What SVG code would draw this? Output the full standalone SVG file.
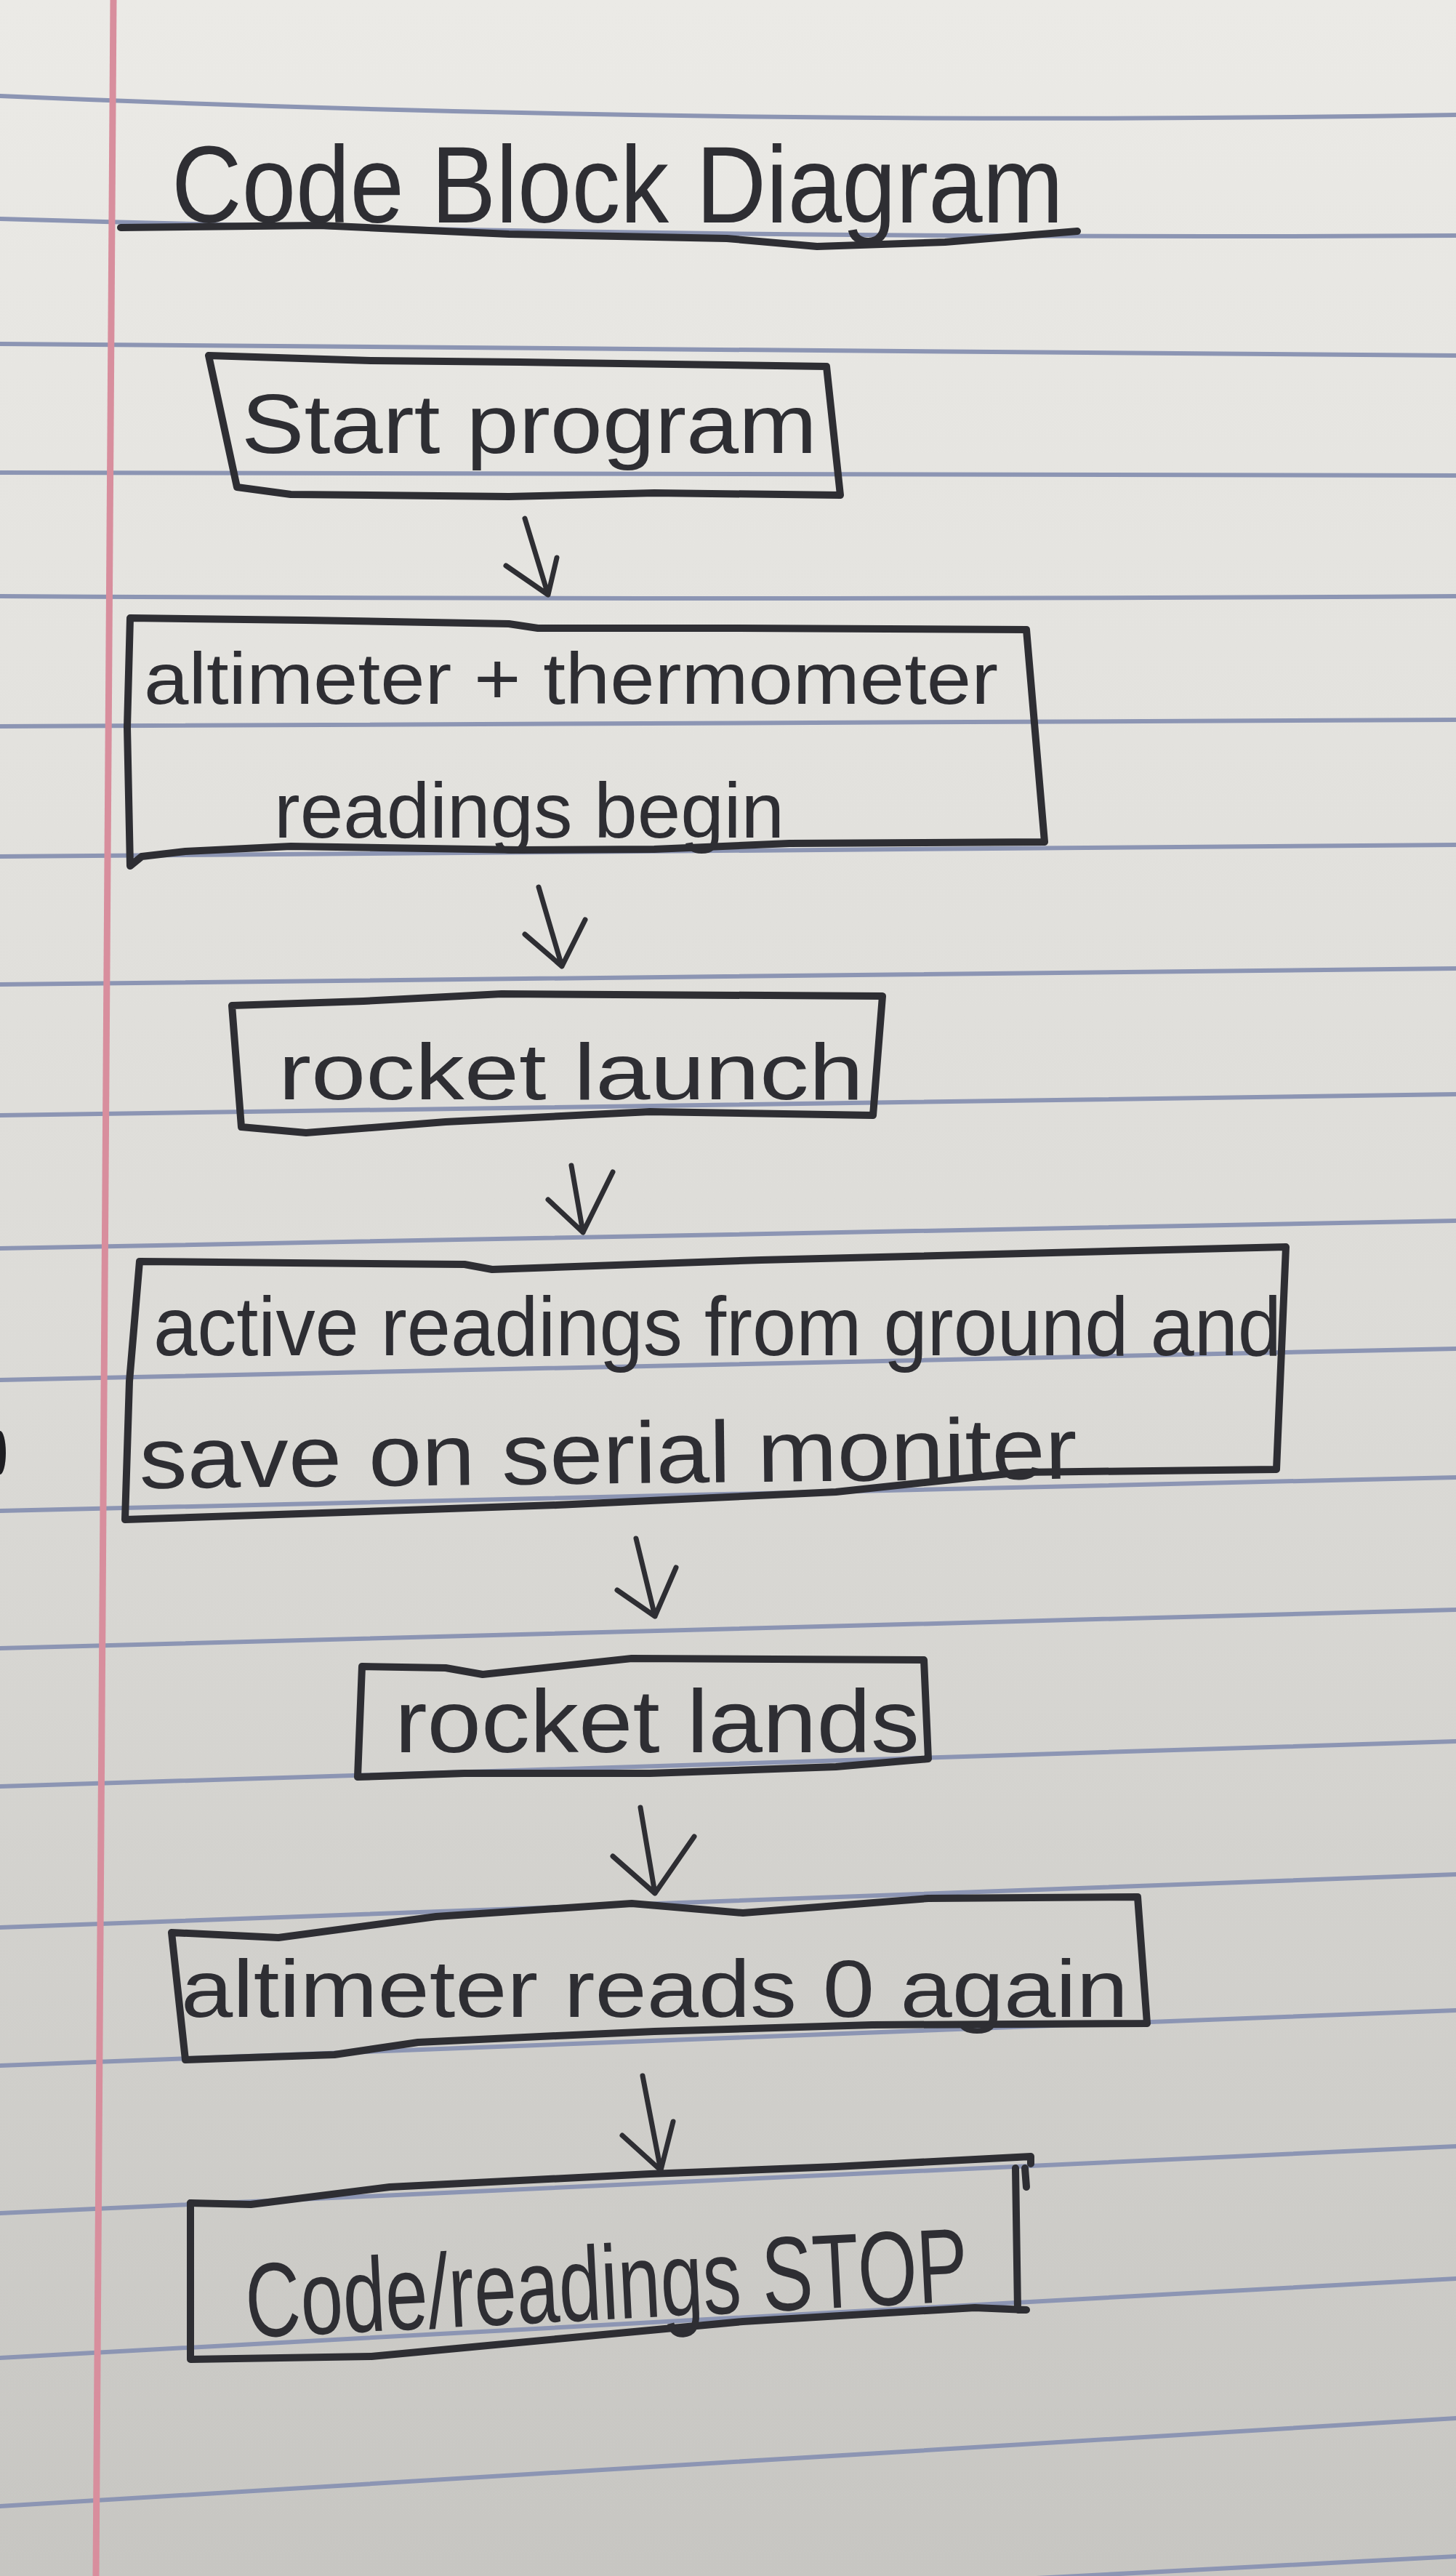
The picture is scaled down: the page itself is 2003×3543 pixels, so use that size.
<svg xmlns="http://www.w3.org/2000/svg" width="2003" height="3543" viewBox="0 0 2003 3543">
<defs>
<linearGradient id="paper" x1="0" y1="0" x2="0" y2="1">
<stop offset="0" stop-color="#ebeae6"/>
<stop offset="0.5" stop-color="#dddcd8"/>
<stop offset="1" stop-color="#c7c6c2"/>
</linearGradient>
<style>
.rule{fill:none;stroke:#8c95b3;stroke-width:6;stroke-linecap:round}
.margin{fill:none;stroke:#d88e9d;stroke-width:9}
.box{fill:none;stroke:#2e2e33;stroke-width:10;stroke-linejoin:round;stroke-linecap:round}
.arrow{fill:none;stroke:#2e2e33;stroke-width:7;stroke-linejoin:round;stroke-linecap:round}
.hand{font-family:"Liberation Sans","DejaVu Sans",sans-serif;fill:#2e2e33}
</style>
</defs>
<rect x="0" y="0" width="2003" height="3543" fill="url(#paper)"/>
<g id="paper-lines">
<path class="rule" d="M0,132 Q1000,175 2003,158"/>
<path class="rule" d="M0,301 Q1000,330 2003,324"/>
<path class="rule" d="M0,473 Q1000,485 2003,489"/>
<path class="rule" d="M0,650 Q1000,655 2003,654"/>
<path class="rule" d="M0,820 Q1000,826 2003,820"/>
<path class="rule" d="M0,999 Q1000,998 2003,990"/>
<path class="rule" d="M0,1178 Q1000,1172 2003,1162"/>
<path class="rule" d="M0,1354 Q1000,1345 2003,1332"/>
<path class="rule" d="M0,1534 Q1000,1520 2003,1505"/>
<path class="rule" d="M0,1717 Q1000,1698 2003,1679"/>
<path class="rule" d="M0,1898 Q1000,1876 2003,1855"/>
<path class="rule" d="M0,2078 Q1000,2055 2003,2032"/>
<path class="rule" d="M0,2267 Q1000,2240 2003,2214"/>
<path class="rule" d="M0,2457 Q1000,2426 2003,2395"/>
<path class="rule" d="M0,2651 Q1000,2614 2003,2578"/>
<path class="rule" d="M0,2841 Q1000,2803 2003,2765"/>
<path class="rule" d="M0,3044 Q1000,2998 2003,2952"/>
<path class="rule" d="M0,3243 Q1000,3188 2003,3134"/>
<path class="rule" d="M0,3447 Q1000,3386 2003,3326"/>
<path class="rule" d="M0,3620 Q1000,3568 2003,3516"/>
</g>
<path class="margin" d="M156,0 L132,3543"/>
<ellipse cx="0" cy="1998" rx="8" ry="30" fill="#1e1e22"/>

<g id="title">
<text class="hand" x="236" y="306" font-size="150" textLength="1227" lengthAdjust="spacingAndGlyphs">Code Block Diagram</text>
<path class="box" d="M166,313 L440,310 L700,322 L1000,328 L1124,339 L1300,333 L1482,318"/>
</g>

<g id="node-start">
<path class="box" d="M287,489 L511,496 L715,498 L1137,504 L1156,681 L900,678 L700,683 L400,680 L326,670 Z"/>
<text class="hand" x="332" y="623" font-size="115" textLength="792" lengthAdjust="spacingAndGlyphs">Start program</text>
</g>

<g id="node-readings-begin">
<path class="box" d="M179,850 L420,853 L700,858 L740,864 L1000,864 L1412,866 L1437,1158 L1086,1160 L900,1168 L715,1169 L400,1164 L255,1171 L195,1178 L179,1191 L175,1000 Z"/>
<text class="hand" x="198" y="968" font-size="100" textLength="1175" lengthAdjust="spacingAndGlyphs">altimeter + thermometer</text>
<text class="hand" x="377" y="1152" font-size="108" textLength="702" lengthAdjust="spacingAndGlyphs">readings begin</text>
</g>

<g id="node-launch">
<path class="box" d="M319,1383 L500,1377 L690,1367 L1214,1370 L1201,1534 L894,1529 L613,1543 L421,1558 L332,1550 Z"/>
<text class="hand" x="383" y="1512" font-size="110" textLength="805" lengthAdjust="spacingAndGlyphs">rocket launch</text>
</g>

<g id="node-active">
<path class="box" d="M192,1735 L400,1737 L639,1739 L677,1746 L1047,1733 L1769,1715 L1756,2021 L1405,2025 L1150,2052 L766,2070 L383,2083 L172,2090 L178,1900 Z"/>
<text class="hand" x="211" y="1864" font-size="115" textLength="1552" lengthAdjust="spacingAndGlyphs">active readings from ground and</text>
<text class="hand" x="192" y="2047" font-size="120" textLength="1290" lengthAdjust="spacingAndGlyphs" transform="rotate(-0.6 192 2047)">save on serial moniter</text>
</g>

<g id="node-lands">
<path class="box" d="M498,2292 L613,2294 L664,2303 L869,2281 L1271,2283 L1277,2419 L1150,2430 L894,2439 L639,2439 L492,2444 Z"/>
<text class="hand" x="543" y="2410" font-size="122" textLength="722" lengthAdjust="spacingAndGlyphs">rocket lands</text>
</g>

<g id="node-zero">
<path class="box" d="M236,2658 L383,2665 L600,2636 L869,2618 L1022,2631 L1277,2611 L1565,2609 L1578,2783 L1200,2785 L900,2794 L766,2800 L575,2809 L460,2826 L255,2833 Z"/>
<text class="hand" x="249" y="2774" font-size="112" textLength="1303" lengthAdjust="spacingAndGlyphs">altimeter reads 0 again</text>
</g>

<g id="node-stop">
<path class="box" d="M262,3030 L345,3032 L536,3008 L894,2990 L1150,2980 L1418,2966 L1418,2976"/>
<path class="box" d="M1410,2982 L1412,3008"/>
<path class="box" d="M1397,2982 L1400,3177 L1412,3177 L1341,3174 L1022,3193 L766,3217 L511,3241 L262,3245 L262,3030"/>
<text class="hand" x="340" y="3215" font-size="145" textLength="995" lengthAdjust="spacingAndGlyphs" transform="rotate(-2.9 340 3215)">Code/readings STOP</text>
</g>

<g id="connectors">
<path class="arrow" d="M722,713 L754,818 M696,778 L754,818 L766,767"/>
<path class="arrow" d="M741,1220 L773,1329 M722,1285 L773,1329 L805,1265"/>
<path class="arrow" d="M786,1603 L802,1695 M754,1650 L802,1695 L843,1612"/>
<path class="arrow" d="M875,2116 L901,2223 M849,2187 L901,2223 L930,2156"/>
<path class="arrow" d="M881,2486 L901,2604 M843,2553 L901,2604 L955,2526"/>
<path class="arrow" d="M884,2855 L909,2985 M856,2937 L909,2985 L926,2918"/>
</g>
</svg>
